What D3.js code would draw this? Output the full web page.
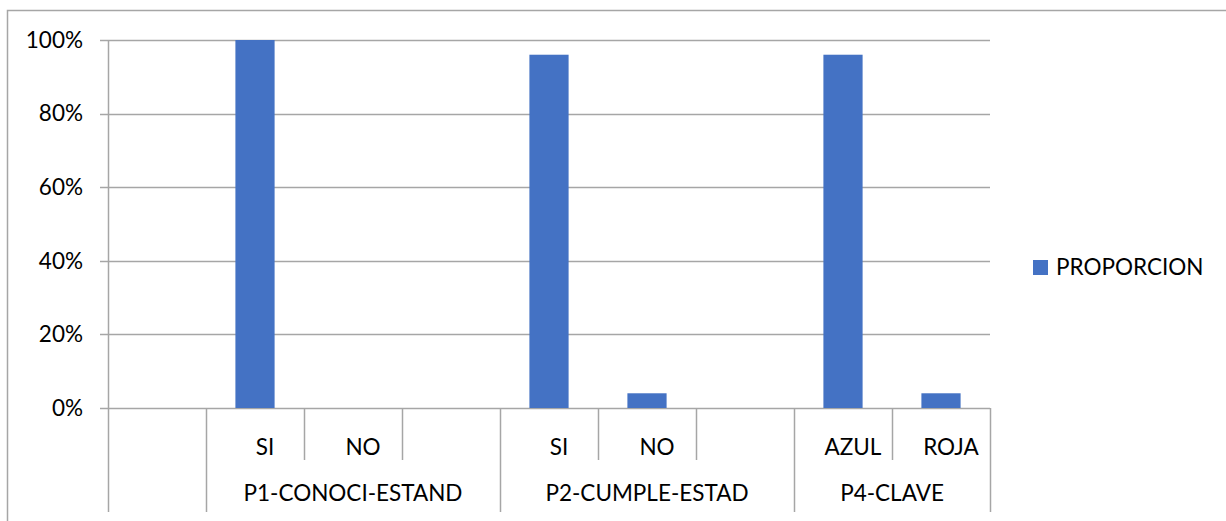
<!DOCTYPE html>
<html>
<head>
<meta charset="utf-8">
<title>PROPORCION</title>
<style>
body { margin: 0; background: #fff; }
#chart { width: 1226px; height: 521px; display: block; }
text { font-family: Lato, "Open Sans", sans-serif; fill: #000; }
</style>
</head>
<body>
<svg id="chart"></svg>
<script src="https://d3js.org/d3.v7.min.js"></script>
<script>

// datos del grafico
const groupNames = ["", "P1-CONOCI-ESTAND", "P2-CUMPLE-ESTAD", "P4-CLAVE"];
const categoryGroup = [0, 1, 1, 1, 2, 2, 2, 3, 3];
const categoryLabels = ["", "SI", "NO", "", "SI", "NO", "", "AZUL", "ROJA"];
const proporcion = [null, 1.00, 0, null, 0.96, 0.04, null, 0.96, 0.04];
const yTicks = [0, 0.2, 0.4, 0.6, 0.8, 1.0];
const seriesName = "PROPORCION";

const plot = { left: 108, right: 990, top: 40, bottom: 408 };
const gridColor = "#a6a6a6";
const barColor = "#4472c4";
const fontSize = 22.5;

const svg = d3.select("#chart");

// marco del grafico
svg.append("rect")
  .attr("x", 7.5).attr("y", 10.5)
  .attr("width", 1400).attr("height", 700)
  .attr("fill", "none")
  .attr("stroke", gridColor)
  .attr("stroke-width", 1.5);

const idx = d3.range(categoryLabels.length);

const slot = d3.scaleBand().domain(idx).range([plot.left, plot.right]);
const x = d3.scaleBand().domain(idx).range([plot.left, plot.right])
  .paddingInner(0.6).paddingOuter(0.3);
const y = d3.scaleLinear().domain([0, 1]).range([plot.bottom, plot.top]);

// lineas de cuadricula
svg.append("g")
  .selectAll("line")
  .data(yTicks)
  .join("line")
  .attr("x1", plot.left - 8)
  .attr("x2", plot.right)
  .attr("y1", d => Math.round(y(d)) + 0.5)
  .attr("y2", d => Math.round(y(d)) + 0.5)
  .attr("stroke", gridColor)
  .attr("stroke-width", 1.5);

// eje Y
const yAxis = d3.axisLeft(y)
  .tickValues(yTicks)
  .tickFormat(d3.format(".0%"))
  .tickSize(0)
  .tickPadding(25);

const yg = svg.append("g")
  .attr("transform", `translate(${plot.left},0)`)
  .call(yAxis);
yg.select(".domain").remove();
yg.selectAll("text")
  .attr("font-size", fontSize)
  .attr("font-family", null);

// barras
svg.append("g")
  .selectAll("rect")
  .data(idx.filter(i => proporcion[i] !== null))
  .join("rect")
  .attr("x", i => x(i))
  .attr("width", x.bandwidth())
  .attr("y", i => y(proporcion[i]))
  .attr("height", i => y(0) - y(proporcion[i]))
  .attr("fill", barColor);

// eje X multinivel: separadores
const lowY = 460, groupY = 512;
const sep = svg.append("g").attr("stroke", gridColor).attr("stroke-width", 1.5);
d3.range(categoryLabels.length + 1).forEach(i => {
  const xs = i < categoryLabels.length ? slot(i) : plot.right;
  const isGroupEdge = i === 0 || i === categoryLabels.length || categoryGroup[i] !== categoryGroup[i - 1];
  sep.append("line")
    .attr("x1", Math.round(xs) + 0.5).attr("x2", Math.round(xs) + 0.5)
    .attr("y1", i === 0 ? plot.top : plot.bottom)
    .attr("y2", isGroupEdge ? groupY : lowY);
});

// etiquetas de subcategorias
svg.append("g")
  .selectAll("text")
  .data(idx)
  .join("text")
  .attr("x", i => slot(i) + slot.bandwidth() / 2 + 10)
  .attr("y", 447)
  .attr("dy", "0.35em")
  .attr("text-anchor", "middle")
  .attr("font-size", fontSize)
  .text(i => categoryLabels[i]);

// etiquetas de grupos
const groupSpans = groupNames.map((g, gi) => {
  const members = idx.filter(i => categoryGroup[i] === gi);
  return { name: g, x0: slot(members[0]), x1: slot(members[members.length - 1]) + slot.bandwidth() };
});
svg.append("g")
  .selectAll("text")
  .data(groupSpans)
  .join("text")
  .attr("x", d => (d.x0 + d.x1) / 2)
  .attr("y", 493)
  .attr("dy", "0.35em")
  .attr("text-anchor", "middle")
  .attr("font-size", fontSize)
  .text(d => d.name);

// leyenda
const legend = svg.append("g").attr("transform", "translate(1033,260)");
legend.append("rect")
  .attr("width", 15).attr("height", 15)
  .attr("fill", barColor);
legend.append("text")
  .attr("x", 23).attr("y", 7.5)
  .attr("dy", "0.35em")
  .attr("font-size", fontSize)
  .text(seriesName);

</script>
</body>
</html>
